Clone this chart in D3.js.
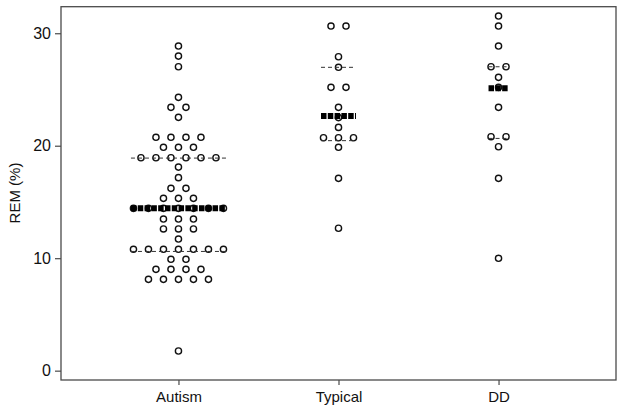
<!DOCTYPE html>
<html><head><meta charset="utf-8">
<script src="https://cdn.jsdelivr.net/npm/d3@7/dist/d3.min.js"></script>
<style>body{margin:0;background:#fff}svg{display:block}</style>
</head><body><svg id="c" width="624" height="412"></svg>
<script>
const categories = ["Autism", "Typical", "DD"];
const autismValues = [28.86, 27.97, 27.02, 24.3, 23.41, 23.41, 22.52,
  20.75, 20.75, 20.75, 20.75, 19.86, 19.86, 19.86,
  18.93, 18.93, 18.93, 18.93, 18.93, 18.93, 18.1, 17.16, 16.21, 16.21,
  15.32, 15.32, 15.32, 14.43, 14.43, 14.43, 14.43, 14.43, 14.43, 14.43,
  13.48, 13.48, 13.48, 12.6, 12.6, 12.6, 11.7,
  10.79, 10.79, 10.79, 10.79, 10.79, 10.79, 10.79, 9.9, 9.9,
  9.01, 9.01, 9.01, 9.01, 8.12, 8.12, 8.12, 8.12, 8.12, 1.75];
const typicalValues = [30.64, 30.64, 27.91, 26.97, 25.19, 25.19, 23.41, 22.5, 21.63,
  20.71, 20.71, 20.71, 19.86, 17.1, 12.66];
const ddValues = [31.53, 30.64, 28.86, 27.02, 27.02, 26.08, 25.19, 23.41,
  20.8, 20.8, 19.91, 17.1, 9.99];
const medians = [14.45, 22.65, 25.1];
const upperQuartiles = [18.9, 26.97, 27.02];
const lowerQuartiles = [10.6, 20.45, 20.65];
const yTicks = [0, 10, 20, 30];
const yTitle = "REM (%)";

const seriesValues = [autismValues, typicalValues, ddValues];

const svg = d3.select("#c");
const L = 61, R = 616, T = 6.7, B = 380;
const x = d3.scalePoint().domain(categories).range([L, R]).padding(0.734);
const y = d3.scaleLinear().domain([-0.83, 32.36]).range([B, T]);
const dotStep = 15;
const font = "'Liberation Sans', Arial, Helvetica, sans-serif";

const dots = [];
const maxRow = [];
seriesValues.forEach((vals, ci) => {
  const groups = d3.group(vals, v => v);
  let m = 1;
  groups.forEach((arr, v) => {
    const n = arr.length; m = Math.max(m, n);
    arr.forEach((_, i) => dots.push({cat: categories[ci], v, off: (i - (n - 1) / 2) * dotStep}));
  });
  maxRow.push(m);
});
const halfW = i => (maxRow[i] - 1) / 2 * dotStep + 2.5;

svg.append("rect").attr("x", L).attr("y", T).attr("width", R - L).attr("height", B - T)
  .attr("fill", "none").attr("stroke", "#4a4a4a").attr("stroke-width", 1.3);

const ya = svg.append("g").attr("transform", `translate(${L},0)`)
  .call(d3.axisLeft(y).tickValues(yTicks).tickSize(6).tickPadding(4));
ya.select(".domain").remove();
ya.selectAll("line").attr("stroke", "#4a4a4a").attr("stroke-width", 1.2);
ya.selectAll("text").attr("font-family", font).attr("font-size", 16).attr("fill", "#111");

const xa = svg.append("g").attr("transform", `translate(0,${B})`)
  .call(d3.axisBottom(x).tickSize(5).tickPadding(6));
xa.select(".domain").remove();
xa.selectAll("line").attr("stroke", "#4a4a4a").attr("stroke-width", 1.2);
xa.selectAll("text").attr("font-family", font).attr("font-size", 15).attr("fill", "#111");

svg.append("text").attr("transform", `translate(20,${193}) rotate(-90)`)
  .attr("text-anchor", "middle").attr("font-family", font).attr("font-size", 15)
  .attr("fill", "#111").text(yTitle);

svg.append("g").selectAll("circle").data(dots).join("circle")
  .attr("cx", d => x(d.cat) + d.off).attr("cy", d => y(d.v)).attr("r", 3.1)
  .attr("fill", "#fff").attr("stroke", "#111").attr("stroke-width", 1.4);

const qg = svg.append("g");
[upperQuartiles, lowerQuartiles].forEach(arr => {
  qg.selectAll(null).data(arr).join("line")
    .attr("x1", (d, i) => x(categories[i]) - halfW(i)).attr("x2", (d, i) => x(categories[i]) + halfW(i))
    .attr("y1", d => y(d)).attr("y2", d => y(d))
    .attr("stroke", "#333").attr("stroke-width", 1).attr("stroke-dasharray", "4,3");
});
svg.append("g").selectAll("line").data(medians).join("line")
  .attr("x1", (d, i) => x(categories[i]) - halfW(i)).attr("x2", (d, i) => x(categories[i]) + halfW(i))
  .attr("y1", d => y(d)).attr("y2", d => y(d))
  .attr("stroke", "#000").attr("stroke-width", 6).attr("stroke-dasharray", "5.5,1.3");
</script></body></html>
